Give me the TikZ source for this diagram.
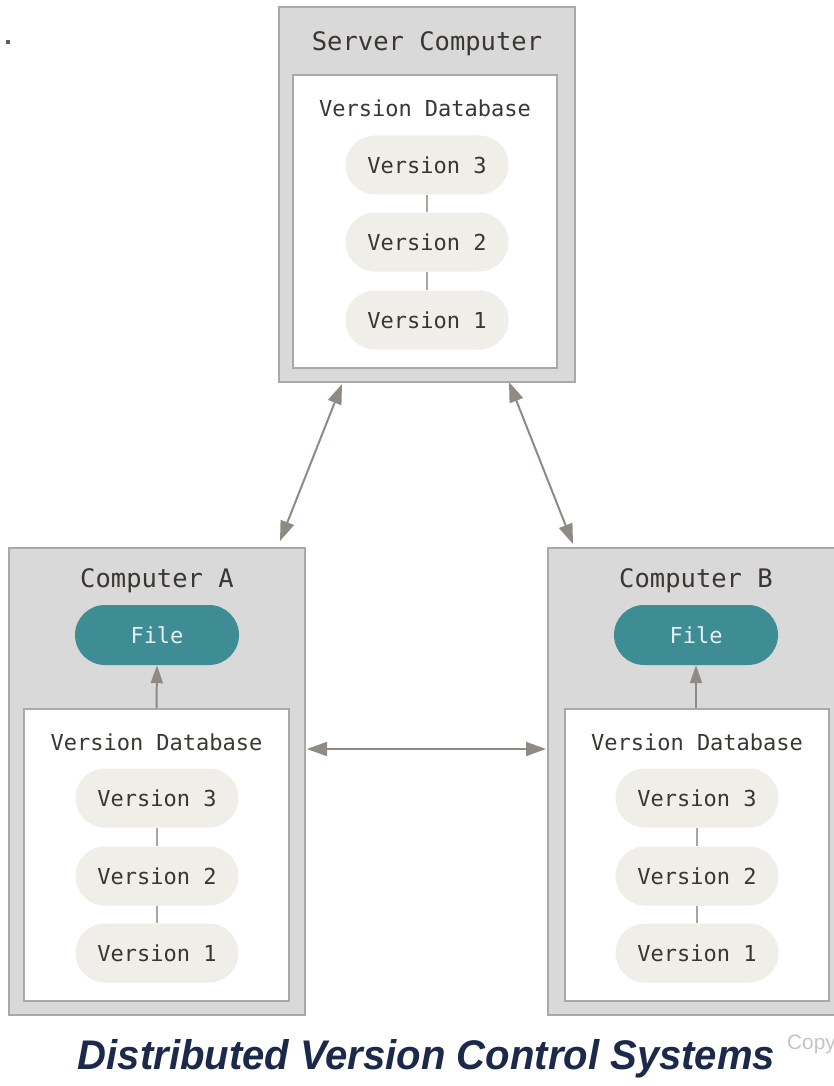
\documentclass[tikz,border=0pt]{standalone}
\usepackage{fontspec}
\setmainfont{DejaVu Sans Mono}
\newfontfamily\titlefont{Liberation Sans}
\usetikzlibrary{arrows.meta,calc}
\definecolor{outerfill}{HTML}{D9D9D9}
\definecolor{boxline}{HTML}{A9A9A9}
\definecolor{pillfill}{HTML}{EFEEE8}
\definecolor{txt}{HTML}{3A3632}
\definecolor{filefill}{HTML}{3E8C94}
\definecolor{filetxt}{HTML}{E6F0F0}
\definecolor{arr}{HTML}{8F8B84}
\definecolor{vline}{HTML}{A8A6A0}
\definecolor{titlecol}{HTML}{1B2A4B}
\definecolor{copycol}{HTML}{C4C4C4}
\begin{document}
\begin{tikzpicture}[x=1pt,y=-1pt,
  outerbox/.style={draw=boxline,line width=2pt,fill=outerfill,minimum width=296pt,inner sep=0pt},
  innerbox/.style={draw=boxline,line width=2pt,fill=white,minimum width=264pt,minimum height=292pt,inner sep=0pt},
  boxtitle/.style={text=txt,font=\fontsize{25.5}{30}\selectfont,inner sep=0pt},
  dbtitle/.style={text=txt,font=\fontsize{22}{26}\selectfont,inner sep=0pt},
  pill/.style={fill=pillfill,rounded corners=29.5pt,minimum width=163pt,minimum height=59pt,text=txt,font=\fontsize{22}{26}\selectfont,inner sep=0pt},
  filepill/.style={fill=filefill,rounded corners=30pt,minimum width=164pt,minimum height=60pt,text=filetxt,font=\fontsize{22}{26}\selectfont,inner sep=0pt},
  link/.style={draw=vline,line width=1.5pt},
  conn/.style={draw=arr,line width=2pt,{Triangle[length=20pt,width=14pt]}-{Triangle[length=20pt,width=14pt]}},
  upconn/.style={draw=arr,line width=2pt,-{Triangle[length=18pt,width=12pt]}}
]
\useasboundingbox (0,0) rectangle (834,1086);
\clip (0,0) rectangle (834,1086);
\fill[white] (0,0) rectangle (834,1086);
% small dot
\fill[txt!80] (6,40) rectangle (10,44);
% Server
\node[outerbox,minimum height=375pt] (srv) at (427,194.5) {};
\node[innerbox,minimum height=293pt] (srvin) at (425,221.5) {};
\node[boxtitle] (srvt) at (427,43.5) {Server Computer};
\node[dbtitle] (srvdb) at (425,108) {Version Database};
\node[pill] (s3) at (427,165) {Version 3};
\node[pill] (s2) at (427,242) {Version 2};
\node[pill] (s1) at (427,320) {Version 1};
\draw[link] (s3) -- (s2);
\draw[link] (s2) -- (s1);
% Computer A
\node[outerbox,minimum height=467pt] (ca) at (157,781.5) {};
\node[innerbox,minimum width=265pt] (cain) at (156.5,855) {};
\node[boxtitle] (cat) at (157,580.5) {Computer A};
\node[filepill] (cafile) at (157,635) {File};
\node[dbtitle] (cadb) at (156.5,742) {Version Database};
\node[pill] (a3) at (157,798) {Version 3};
\node[pill] (a2) at (157,876) {Version 2};
\node[pill] (a1) at (157,953) {Version 1};
\draw[link] (a3) -- (a2);
\draw[link] (a2) -- (a1);
\draw[upconn] (cain.north) -- (cafile.south);
% Computer B
\node[outerbox,minimum height=467pt] (cb) at (696,781.5) {};
\node[innerbox] (cbin) at (697,855) {};
\node[boxtitle] (cbt) at (696,580.5) {Computer B};
\node[filepill] (cbfile) at (696,635) {File};
\node[dbtitle] (cbdb) at (697,742) {Version Database};
\node[pill] (b3) at (697,798) {Version 3};
\node[pill] (b2) at (697,876) {Version 2};
\node[pill] (b1) at (697,953) {Version 1};
\draw[link] (b3) -- (b2);
\draw[link] (b2) -- (b1);
\draw[upconn] (cbin.north -| cbfile.south) -- (cbfile.south);
% connectors
\coordinate (sl) at ($(srv.south west)+(64,1)$);
\coordinate (al) at ($(ca.north west)+(272,-6)$);
\draw[conn] (sl) -- (al);
\coordinate (sr) at ($(srv.south west)+(231,-1)$);
\coordinate (br) at ($(cb.north west)+(26,-3)$);
\draw[conn] (sr) -- (br);
\coordinate (ah) at ($(ca.east)+(1,-32.5)$);
\coordinate (bh) at ($(cb.west)+(-1,-32.5)$);
\draw[conn] (ah) -- (bh);
% title
\node[anchor=base,inner sep=0pt,text=titlecol] (title) at (426.5,1069) {\resizebox{697pt}{30pt}{\titlefont\bfseries\itshape Distributed Version Control Systems}};
\node[anchor=base west,inner sep=0pt,text=copycol] (copy) at (787,1049) {\resizebox{!}{14.5pt}{\titlefont Copy}};
\end{tikzpicture}
\end{document}
